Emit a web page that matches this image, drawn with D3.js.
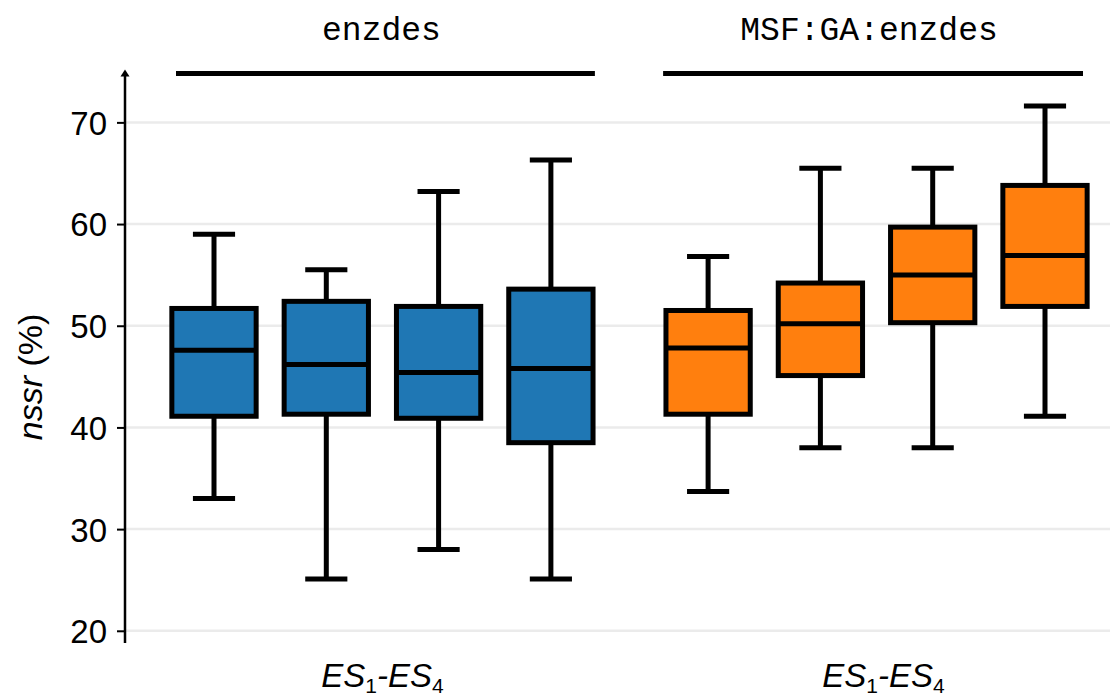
<!DOCTYPE html>
<html><head><meta charset="utf-8">
<script src="https://cdn.jsdelivr.net/npm/d3@7"></script>
<style>body{margin:0;background:#fff}svg{display:block}</style>
</head><body>
<svg id="chart" width="1110" height="697"></svg>
<script>
// ---- data ----
const groups = ["enzdes", "MSF:GA:enzdes"];
const categories = ["ES1", "ES2", "ES3", "ES4"];
const yTicks = [20, 30, 40, 50, 60, 70];
const enzdesLow    = [33.0, 25.1, 28.0, 25.1];
const enzdesQ1     = [41.1, 41.3, 40.9, 38.5];
const enzdesMedian = [47.6, 46.2, 45.4, 45.8];
const enzdesQ3     = [51.7, 52.4, 51.9, 53.6];
const enzdesHigh   = [59.0, 55.5, 63.2, 66.3];
const msfLow    = [33.7, 38.0, 38.0, 41.1];
const msfQ1     = [41.3, 45.1, 50.3, 51.9];
const msfMedian = [47.8, 50.2, 55.0, 56.9];
const msfQ3     = [51.5, 54.2, 59.7, 63.8];
const msfHigh   = [56.8, 65.5, 65.5, 71.6];
const colors = ["#1f77b4", "#ff7f0e"];

const series = [
  {low: enzdesLow, q1: enzdesQ1, med: enzdesMedian, q3: enzdesQ3, high: enzdesHigh},
  {low: msfLow, q1: msfQ1, med: msfMedian, q3: msfQ3, high: msfHigh}
];
const boxes = [];
series.forEach((s, g) => categories.forEach((c, i) => boxes.push({
  g, i, pos: g * 4.4 + i, low: s.low[i], q1: s.q1[i], med: s.med[i], q3: s.q3[i], high: s.high[i]
})));

const svg = d3.select("#chart");
const x = d3.scaleLinear().domain([0, 7.4]).range([214, 1045]);
const y = d3.scaleLinear().domain([18.8, 75.2]).range([643, 69.5]);
const axisX = 125;
const boxW = x(1) - x(0) - 28;
const capW = boxW / 2;
const sans = "Liberation Sans, Arial, sans-serif";

// gridlines
svg.append("g").selectAll("line").data(yTicks).join("line")
  .attr("x1", axisX).attr("x2", 1110)
  .attr("y1", d => y(d)).attr("y2", d => y(d))
  .attr("stroke", "#ebebeb").attr("stroke-width", 2.5);

// y axis
const yAxis = d3.axisLeft(y).tickValues(yTicks).tickSize(8).tickPadding(10).tickFormat(d3.format("d"));
const ga = svg.append("g").attr("transform", `translate(${axisX},0)`).call(yAxis)
  .attr("font-size", 33).attr("font-family", sans);
ga.select(".domain").remove();
ga.selectAll(".tick line").attr("stroke", "#000").attr("stroke-width", 2);
ga.selectAll(".tick text").style("font-size", "33px").style("font-family", sans)
  .attr("fill", "#000").attr("dy", "0.36em");
svg.append("line").attr("x1", axisX).attr("x2", axisX)
  .attr("y1", y.range()[0]).attr("y2", y.range()[1] + 4)
  .attr("stroke", "#000").attr("stroke-width", 2.5);
svg.append("path")
  .attr("d", `M${axisX - 4.5},${y.range()[1] + 7} L${axisX},${y.range()[1]} L${axisX + 4.5},${y.range()[1] + 7} Z`)
  .attr("fill", "#000");

// y label
const yl = svg.append("text")
  .attr("transform", "translate(42,377) rotate(-90)")
  .attr("text-anchor", "middle")
  .style("font-family", sans).style("font-size", "34px").attr("fill", "#000");
yl.append("tspan").attr("font-style", "italic").text("nssr");
yl.append("tspan").text(" (%)");

// whiskers
const bg = svg.append("g");
bg.selectAll("line.wl").data(boxes).join("line").attr("class", "wl")
  .attr("x1", d => x(d.pos)).attr("x2", d => x(d.pos))
  .attr("y1", d => y(d.low)).attr("y2", d => y(d.high))
  .attr("stroke", "#000").attr("stroke-width", 5);
bg.selectAll("line.cl").data(boxes).join("line").attr("class", "cl")
  .attr("x1", d => x(d.pos) - capW / 2).attr("x2", d => x(d.pos) + capW / 2)
  .attr("y1", d => y(d.low)).attr("y2", d => y(d.low))
  .attr("stroke", "#000").attr("stroke-width", 5);
bg.selectAll("line.ch").data(boxes).join("line").attr("class", "ch")
  .attr("x1", d => x(d.pos) - capW / 2).attr("x2", d => x(d.pos) + capW / 2)
  .attr("y1", d => y(d.high)).attr("y2", d => y(d.high))
  .attr("stroke", "#000").attr("stroke-width", 5);
// boxes
bg.selectAll("rect").data(boxes).join("rect")
  .attr("x", d => x(d.pos) - boxW / 2).attr("width", boxW)
  .attr("y", d => y(d.q3)).attr("height", d => y(d.q1) - y(d.q3))
  .attr("fill", d => colors[d.g]).attr("stroke", "#000").attr("stroke-width", 5);
bg.selectAll("line.md").data(boxes).join("line").attr("class", "md")
  .attr("x1", d => x(d.pos) - boxW / 2).attr("x2", d => x(d.pos) + boxW / 2)
  .attr("y1", d => y(d.med)).attr("y2", d => y(d.med))
  .attr("stroke", "#000").attr("stroke-width", 5);

// group bars and titles
const spans = [[x(0) - 38, x(3) + 44], [x(4.4) - 45, x(7.4) + 38]];
const tg = svg.append("g");
tg.selectAll("line").data(groups).join("line")
  .attr("x1", (d, i) => spans[i][0]).attr("x2", (d, i) => spans[i][1])
  .attr("y1", 73.5).attr("y2", 73.5).attr("stroke", "#000").attr("stroke-width", 5);
tg.selectAll("text.title").data(groups).join("text").attr("class", "title")
  .attr("x", (d, i) => (spans[i][0] + spans[i][1]) / 2 - 4)
  .attr("y", 40).attr("text-anchor", "middle")
  .style("font-family", "Courier New, Liberation Mono, monospace").style("font-size", "33px")
  .attr("fill", "#000").text(d => d);

// bottom labels
const bl = svg.append("g").selectAll("text").data(groups).join("text")
  .attr("x", (d, i) => i === 0 ? (x(0) + x(3)) / 2 : (x(4.4) + x(7.4)) / 2 + 7)
  .attr("y", 687).attr("text-anchor", "middle")
  .style("font-family", sans).style("font-size", "33px")
  .attr("font-style", "italic").attr("fill", "#000");
bl.each(function () {
  const t = d3.select(this);
  t.append("tspan").text("ES");
  t.append("tspan").style("font-size", "21px").attr("dy", 6).attr("font-style", "normal").text("1");
  t.append("tspan").attr("dy", -6).text("-ES");
  t.append("tspan").style("font-size", "21px").attr("dy", 6).attr("font-style", "normal").text("4");
});
</script>
</body></html>
